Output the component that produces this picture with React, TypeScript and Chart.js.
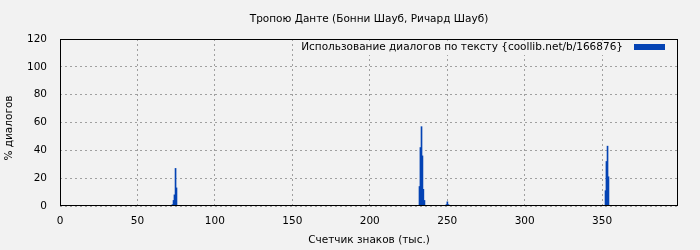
import React, { useEffect, useRef } from "react";
import { Chart, registerables } from "chart.js";

Chart.register(...registerables);

const TITLE = "Тропою Данте (Бонни Шауб, Ричард Шауб)";
const X_TITLE = "Счетчик знаков (тыс.)";
const Y_TITLE = "% диалогов";
const LEGEND_LABEL = "Использование диалогов по тексту {coollib.net/b/166876}";

// x positions (thousands of characters) and dialogue percentages
const positions = [
  72.6, 73.3, 73.9, 74.6, 75.2,
  232.1, 232.7, 233.4, 234.0, 234.6, 235.3,
  249.5, 250.1, 250.8,
  352.2, 352.8, 353.5, 354.1,
];
const values = [
  1, 4, 8, 27, 13,
  14, 42, 57, 36, 12, 4,
  1, 3, 1,
  11, 32, 43, 21,
];
const xTicks = [0, 50, 100, 150, 200, 250, 300, 350];
const yTicks = [0, 20, 40, 60, 80, 100, 120];

const X_MAX = 399;
const Y_MAX = 120;
const BG = "#f2f2f2";
const BAR = "#0443b4";
const FONT = "DejaVu Sans";
const FS = 10.5;

export default function App() {
  const ref = useRef<HTMLCanvasElement | null>(null);

  useEffect(() => {
    if (!ref.current) return;
    const decor = {
      id: "decor",
      beforeDraw(chart: any) {
        const { ctx, width, height } = chart;
        ctx.save();
        ctx.fillStyle = BG;
        ctx.fillRect(0, 0, width, height);
        ctx.restore();
      },
      afterDraw(chart: any) {
        const { ctx, chartArea } = chart;
        const { left, right, top, bottom } = chartArea;
        ctx.save();
        // legend
        ctx.fillStyle = BG;
        ctx.fillRect(296, top + 2, right - 6 - 296, 14);
        ctx.font = `${FS}px "${FONT}"`;
        ctx.fillStyle = "#000";
        ctx.textAlign = "right";
        ctx.textBaseline = "middle";
        ctx.fillText(LEGEND_LABEL, 623, top + 8);
        ctx.fillStyle = BAR;
        ctx.fillRect(634, top + 5, 31, 6);
        // border
        ctx.strokeStyle = "#000";
        ctx.lineWidth = 1;
        ctx.strokeRect(Math.round(left) + 0.5, Math.round(top) + 0.5, Math.round(right - left) - 1, Math.round(bottom - top) - 1);
        // titles
        ctx.fillStyle = "#000";
        ctx.textAlign = "center";
        ctx.textBaseline = "middle";
        ctx.font = `${FS}px "${FONT}"`;
        ctx.fillText(TITLE, (left + right) / 2, 19.5);
        ctx.fillText(X_TITLE, (left + right) / 2, 240);
        ctx.translate(9.5, 128);
        ctx.rotate(-Math.PI / 2);
        ctx.fillText(Y_TITLE, 0, 0);
        ctx.restore();
      },
    };

    const chart = new Chart(ref.current, {
      type: "bar",
      data: {
        datasets: [
          {
            label: LEGEND_LABEL,
            data: positions.map((x, i) => ({ x, y: values[i] })),
            backgroundColor: BAR,
            borderWidth: 0,
            barThickness: 1,
          },
        ],
      },
      options: {
        animation: false,
        responsive: false,
        maintainAspectRatio: false,
        layout: { padding: { left: 0, top: 39, right: 22, bottom: 0 } },
        plugins: {
          legend: { display: false },
          title: { display: false },
          tooltip: { enabled: false },
        },
        scales: {
          x: {
            type: "linear",
            min: 0,
            max: X_MAX,
            offset: false,
            afterFit(scale: any) {
              scale.height = 44;
            },
            afterBuildTicks(scale: any) {
              scale.ticks = xTicks.map((v) => ({ value: v }));
            },
            ticks: {
              padding: 9,
              color: "#000",
              font: { family: FONT, size: FS },
              maxRotation: 0,
              autoSkip: false,
            },
            grid: {
              color: "#a0a0a0",
              drawTicks: false,
              lineWidth: 1,
              offset: false,
            },
            border: { display: false, dash: [2, 3] },
          },
          y: {
            min: 0,
            max: Y_MAX,
            afterFit(scale: any) {
              scale.width = 60;
            },
            afterBuildTicks(scale: any) {
              scale.ticks = yTicks.map((v) => ({ value: v }));
            },
            ticks: {
              padding: 13,
              color: "#000",
              font: { family: FONT, size: FS },
              autoSkip: false,
            },
            grid: {
              color: "#a0a0a0",
              drawTicks: false,
              lineWidth: 1,
            },
            border: { display: false, dash: [2, 3] },
          },
        },
      },
      plugins: [decor],
    });
    return () => chart.destroy();
  }, []);

  return (
    <div style={{ position: "fixed", left: 0, top: 0, width: 700, height: 250 }}>
      <canvas ref={ref} width={700} height={250} />
    </div>
  );
}
